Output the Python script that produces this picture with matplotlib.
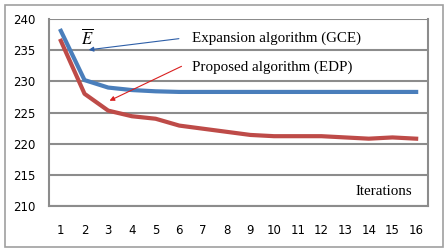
import matplotlib.pyplot as plt
from matplotlib.patches import Rectangle

# Data
iterations = list(range(1, 17))
gce = [238.1, 230.2, 229.0, 228.6, 228.4, 228.3, 228.3, 228.3, 228.3, 228.3,
       228.3, 228.3, 228.3, 228.3, 228.3, 228.3]
edp = [236.5, 228.0, 225.3, 224.4, 224.0, 222.9, 222.4, 221.9, 221.4, 221.2,
       221.2, 221.2, 221.0, 220.8, 221.0, 220.8]
yticks = [210, 215, 220, 225, 230, 235, 240]

grid_col = '#8c8c8c'
plt.rcParams['mathtext.fontset'] = 'stix'

fig = plt.figure(figsize=(4.48, 2.52), dpi=100)
fig.patches.append(Rectangle((5 / 448, 5 / 252), 438 / 448, 242 / 252, transform=fig.transFigure,
                             fill=False, edgecolor='#a0a0a0', linewidth=1.2))
ax = fig.add_axes([49 / 448, 1 - 206 / 252, (428 - 49) / 448, (206 - 19) / 252])

# Grid lines
for t in yticks:
    ax.axhline(t, color=grid_col, linewidth=1.5, zorder=1)

ax.plot(iterations, gce, color='#4a7ebb', linewidth=3, zorder=3)
ax.plot(iterations, edp, color='#be4b48', linewidth=3, zorder=3)

ax.set_xlim(0.5, 16.5)
ax.set_ylim(210, 240)
ax.set_xticks(iterations)
ax.set_yticks(yticks)
ax.tick_params(length=0, labelsize=8.5, colors='black')
ax.tick_params(axis='x', pad=13)
ax.tick_params(axis='y', pad=10)
ax.spines['top'].set_visible(False)
for s in ['left', 'right', 'bottom']:
    ax.spines[s].set_color(grid_col)
    ax.spines[s].set_linewidth(1.5)

serif = 'Liberation Serif'
ax.text(2.1, 237.0, r'$\overline{E}$', fontsize=12, ha='center', va='center')
ax.text(6.55, 236.9, 'Expansion algorithm (GCE)', fontsize=10.8, family=serif, va='center')
ax.text(6.55, 232.2, 'Proposed algorithm (EDP)', fontsize=10.8, family=serif, va='center')
ax.text(15.85, 212.4, 'Iterations', fontsize=10.8, family=serif, ha='right', va='center')

ax.annotate('', xy=(2.06, 235.0), xytext=(6.1, 236.9),
            arrowprops=dict(arrowstyle='-|>', color='#2e5fa8', lw=0.8, mutation_scale=7))
ax.annotate('', xy=(2.95, 226.7), xytext=(6.2, 232.6),
            arrowprops=dict(arrowstyle='-|>', color='#d92020', lw=0.8, mutation_scale=7))

fig.savefig('out.png', dpi=100)
